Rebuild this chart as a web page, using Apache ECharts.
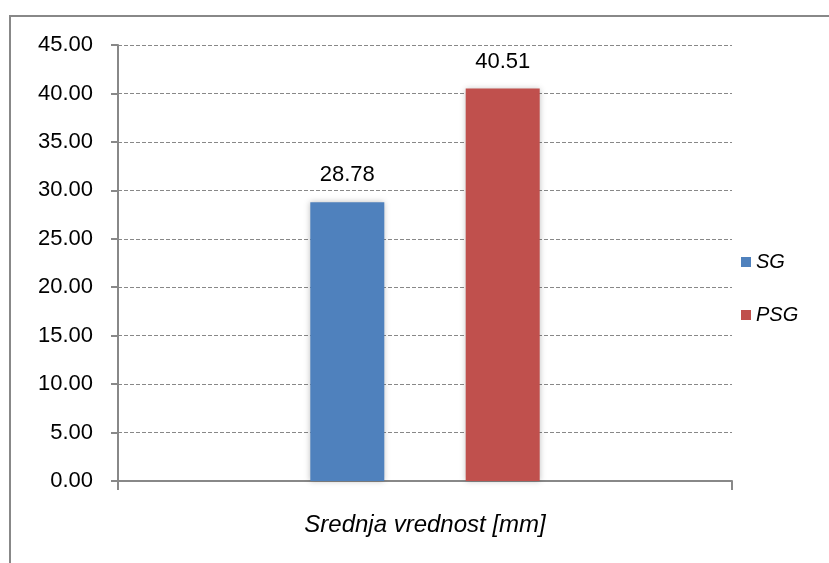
<!DOCTYPE html>
<html><head><meta charset="utf-8">
<script src="https://cdn.jsdelivr.net/npm/echarts@6/dist/echarts.min.js"></script>
<style>html,body{margin:0;padding:0;background:#fff}#c{width:829px;height:563px}</style>
</head><body><div id="c"></div>
<script>
const categories = ['Srednja vrednost [mm]'];
const seriesNames = ['SG', 'PSG'];
const sgValues = [28.78];
const psgValues = [40.51];
const colors = ['#4F81BD', '#C0504D'];

const chart = echarts.init(document.getElementById('c'));
const font = '"Liberation Sans", Arial, sans-serif';
const mkSeries = (name, data, color) => ({
  name, type: 'bar', data,
  barWidth: 74, barGap: '110%',
  itemStyle: { color, shadowColor: 'rgba(0,0,0,0.25)', shadowBlur: 6 },
  label: { show: true, position: 'top', distance: 16, formatter: p => p.value.toFixed(2),
    fontFamily: font, fontSize: 22, color: '#000' }
});
chart.setOption({
  animation: false,
  graphic: [{ type: 'rect', shape: { x: 10, y: 16, width: 840, height: 570 },
    style: { fill: 'none', stroke: '#888', lineWidth: 2 }, silent: true }],
  grid: { left: 118, right: 97, top: 45, bottom: 82, containLabel: false },
  legend: {
    orient: 'vertical', left: 736, top: 247, itemGap: 33,
    itemWidth: 10, itemHeight: 10, icon: 'rect', itemTextGap: 6,
    textStyle: { fontFamily: font, fontSize: 20, fontStyle: 'italic', color: '#000' },
    data: seriesNames
  },
  xAxis: {
    type: 'category', data: categories,
    axisLine: { lineStyle: { color: '#888', width: 2 } },
    axisTick: { show: true, length: 9, lineStyle: { color: '#888', width: 2 } },
    axisLabel: { show: true, margin: 32, fontFamily: font, fontSize: 24, fontStyle: 'italic', color: '#000' }
  },
  yAxis: {
    type: 'value', min: 0, max: 45, interval: 5,
    axisLine: { show: true, lineStyle: { color: '#888', width: 2 } },
    axisTick: { show: true, length: 7, lineStyle: { color: '#888', width: 2 } },
    axisLabel: { formatter: v => v.toFixed(2), margin: 25, fontFamily: font, fontSize: 22, color: '#000' },
    splitLine: { show: true, lineStyle: { color: '#888', type: [4, 2], width: 1 } }
  },
  series: [mkSeries(seriesNames[0], sgValues, colors[0]), mkSeries(seriesNames[1], psgValues, colors[1])]
});
</script></body></html>
